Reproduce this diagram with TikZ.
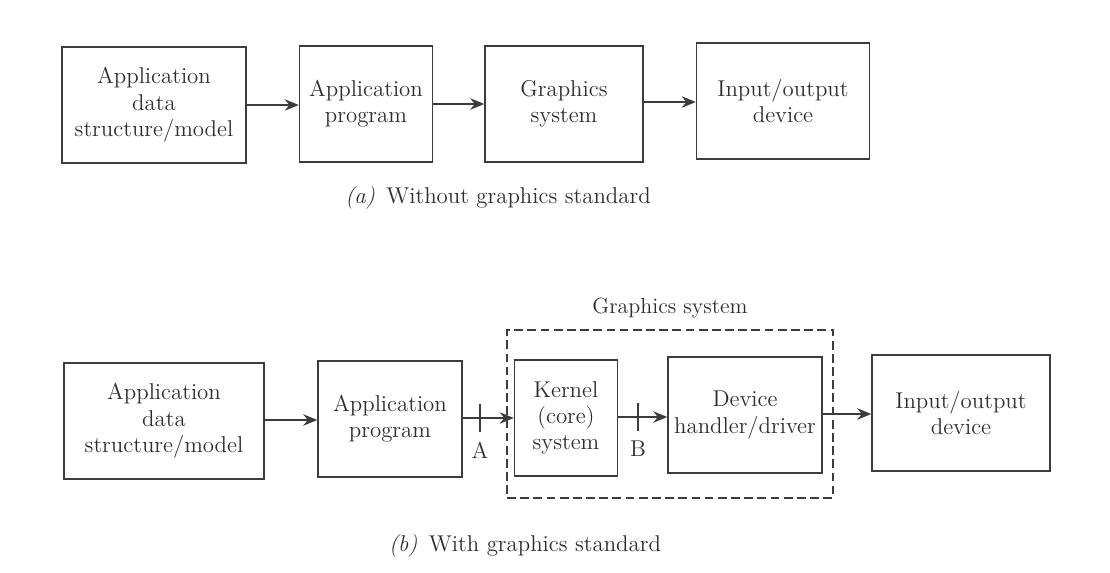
\documentclass[tikz,border=0pt]{standalone}
\usepackage{xcolor}
\usepackage{tikz}
\usetikzlibrary{arrows.meta,positioning,calc}
\definecolor{boxline}{RGB}{60,60,60}
\definecolor{txtgray}{RGB}{45,45,45}

\begin{document}
\begin{tikzpicture}[x=0.02cm,y=-0.02cm,>={Stealth[length=8pt,width=6.5pt]},
    blk/.style={draw=boxline,line width=0.8pt,align=center,inner sep=2pt,
      minimum height=2.32cm,text=txtgray,font=\fontsize{13}{15}\selectfont},
    flow/.style={->,line width=1.1pt,boxline},
    captxt/.style={text=txtgray,font=\fontsize{13}{15}\selectfont}]
  % frame of the picture
  \useasboundingbox (0,0) rectangle (1110,572);
  % (a) without graphics standard
  \node[blk,minimum width=3.68cm] (aData) at (154,105) {Application\\ data\\ structure/model};
  \node[blk,minimum width=2.66cm] (aProg) at (366,104) {Application\\ program};
  \node[blk,minimum width=3.16cm] (aGfx)  at (564,104) {Graphics\\ system};
  \node[blk,minimum width=3.46cm] (aIO)   at (783,101) {Input/output\\ device};
  \draw[flow] (aData.east |- 0,105) -- (aProg.west |- 0,105);
  \draw[flow] (aProg.east |- 0,104) -- (aGfx.west |- 0,104);
  \draw[flow] (aGfx.east |- 0,102) -- (aIO.west |- 0,102);
  \node[captxt] (capA) at (498,198) {\textit{(a)}\enspace Without graphics standard};
  % (b) with graphics standard
  \node[blk,minimum width=4.00cm] (bData)   at (164,421) {Application\\ data\\ structure/model};
  \node[blk,minimum width=2.88cm] (bProg)   at (390,419) {Application\\ program};
  \node[blk,minimum width=2.06cm] (bKernel) at (566,418) {Kernel\\ (core)\\ system};
  \node[blk,minimum width=3.08cm] (bDevice) at (745,415) {Device\\ handler/driver};
  \node[blk,minimum width=3.56cm] (bIO)     at (961,413) {Input/output\\ device};
  \draw[flow] (bData.east |- 0,420) -- (bProg.west |- 0,420);
  \draw[flow] (bProg.east |- 0,418) -- (bKernel.west |- 0,418);
  \draw[flow] (bKernel.east |- 0,417) -- (bDevice.west |- 0,417);
  \draw[flow] (bDevice.east |- 0,414) -- (bIO.west |- 0,414);
  % dashed graphics system
  \node[draw=boxline,dash pattern=on 5pt off 2.5pt,line width=0.7pt,minimum width=6.52cm,minimum height=3.36cm] (gsys) at (670,414) {};
  \node[captxt,font=\fontsize{12.5}{14}\selectfont,above=3pt of gsys] (gsysLbl) {Graphics system};
  % interface points A and B
  \coordinate (tickA) at (480,418);
  \coordinate (tickB) at (638,417);
  \draw[line width=0.8pt,boxline] ($(tickA)+(0,-14)$) -- ($(tickA)+(0,14)$);
  \draw[line width=0.8pt,boxline] ($(tickB)+(0,-14)$) -- ($(tickB)+(0,14)$);
  \node[captxt,below=10pt of tickA] (lblA) {A};
  \node[captxt,below=10pt of tickB] (lblB) {B};
  \node[captxt] (capB) at (525,546) {\textit{(b)}\enspace With graphics standard};
\end{tikzpicture}
\end{document}
